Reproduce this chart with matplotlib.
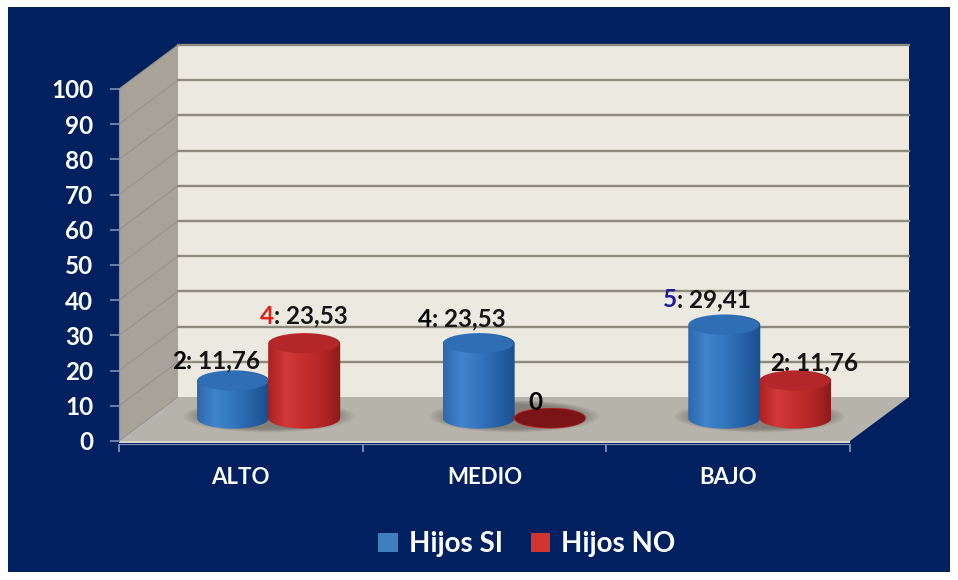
import matplotlib
matplotlib.use("Agg")
import matplotlib.pyplot as plt
import numpy as np
from matplotlib.patches import Ellipse, Patch, PathPatch, Polygon, Rectangle
from matplotlib.path import Path

categories = ["ALTO", "MEDIO", "BAJO"]
si_pct = [11.76, 23.53, 29.41]
no_pct = [23.53, 0, 11.76]
si_count = [2, 4, 5]
no_count = [4, 0, 2]
si_num_color = ["black", "black", "#1a1a9c"]
no_num_color = ["#e0201c", "black", "black"]
# pixel shift of each label from the top of its cylinder
si_shift = [(-47, 9), (-47, 14), (-47, 15)]
no_shift = [(-30, 17), (-7, 5), (-11, 7)]

W, H = 958, 580
NAVY = "#00205f"
FONT = "Lato"
px_x = 731 / 3     # px per category
px_y = 352 / 100   # px per value unit
dx = 59 / px_x     # depth of the box
dy = 44 / px_y
bar_hw = 36 / px_x
bar_hh = 10.5 / px_y
base_y = 6.5
height_scale = 0.9  # bars stand inside the box, so they come out a bit short
spread = 1.008
si_off = -0.024
no_off = 0.268

fig = plt.figure(figsize=(W / 100, H / 100), dpi=100, facecolor="white")
fig.patches.append(Rectangle((8 / W, 1 - 572 / H), 942 / W, 565 / H, transform=fig.transFigure,
                             facecolor=NAVY, edgecolor="none", zorder=-10))
ax = fig.add_axes([119 / W, 1 - 441 / H, 731 / W, 352 / H])
ax.patch.set_visible(False)


def gradient(stops, n=256):
    pos = np.linspace(0, 1, len(stops))
    rgb = np.array([matplotlib.colors.to_rgb(c) for c in stops])
    t = np.linspace(0, 1, n)
    return np.stack([np.interp(t, pos, rgb[:, i]) for i in range(3)], axis=1)


def poly(points, color, z):
    ax.add_patch(Polygon(points, closed=True, facecolor=color, edgecolor="none", zorder=z, clip_on=False))


def cylinder(cx, value, side, top):
    h = value * height_scale
    top_y = base_y + h
    th = np.linspace(np.pi, 2 * np.pi, 60)
    low = np.column_stack([cx + bar_hw * np.cos(th), base_y + bar_hh * np.sin(th)])
    upp = np.column_stack([cx + bar_hw * np.cos(th[::-1]), top_y - bar_hh * np.sin(th[::-1])])
    outline = np.vstack([low, upp, low[:1]])
    clip = PathPatch(Path(outline), transform=ax.transData, facecolor="none", edgecolor="none")
    ax.add_patch(clip)
    im = ax.imshow(gradient(side)[None, :, :], extent=[cx - bar_hw, cx + bar_hw, base_y - bar_hh, top_y + bar_hh],
                   aspect="auto", zorder=4, interpolation="bilinear")
    im.set_clip_path(clip)
    ax.add_patch(Ellipse((cx, top_y), 2 * bar_hw * 0.97, 2 * bar_hh * 0.92, facecolor=top, edgecolor="none",
                         zorder=5, clip_on=False))
    return top_y + bar_hh


# box of the 3D chart
poly([(0, 0), (dx, dy), (dx, 100 + dy), (0, 100)], "#a7a398", 1)
poly([(dx, dy), (3 + dx, dy), (3 + dx, 100 + dy), (dx, 100 + dy)], "#ece9e0", 1)
poly([(0, 0), (3, 0), (3 + dx, dy), (dx, dy)], "#b6b3ab", 2)
poly([(0, 0), (3, 0), (3, -0.7), (0, -0.7)], "#d5d3cc", 2)
for v in range(10, 110, 10):
    ax.plot([dx, 3 + dx], [v + dy, v + dy], color="#8d897c", lw=1.7, zorder=2, clip_on=False)
    ax.plot([0, dx], [v, v + dy], color="#989488", lw=0.8, zorder=1.5, clip_on=False)

# shadows and cylinders
for i in range(len(categories)):
    c = 1.5 + (i - 1) * spread
    mid = c + (si_off + no_off) / 2
    for scale in np.linspace(1.0, 0.78, 8):
        ax.add_patch(Ellipse((mid, base_y + 0.5), 170 / px_x * scale, 32 / px_y * scale, facecolor="#4e4a42",
                             edgecolor="none", alpha=0.07, zorder=3, clip_on=False))
    si_top = cylinder(c + si_off, si_pct[i],
                      ["#2e68ac", "#3f84cc", "#3376bf", "#2763a8", "#1a4f8e"], "#2f6db4")
    no_top = cylinder(c + no_off, no_pct[i],
                      ["#a9211f", "#d2393a", "#c62d2d", "#b32626", "#8e1a1a"], "#b3272a" if no_pct[i] else "#7b1416")

    labels = [(c + si_off, si_top, si_count[i], si_pct[i], si_num_color[i], si_shift[i]),
              (c + no_off, no_top, no_count[i], no_pct[i], no_num_color[i], no_shift[i])]
    for cx, top, n, pct, col, (sx, sy) in labels:
        off = (sx * 0.72, sy * 0.72)
        ax.annotate(str(n), (cx, top), xytext=off, textcoords="offset points", ha="right", va="center",
                    fontsize=17.5, fontweight="bold", family=FONT, color=col, zorder=7, annotation_clip=False)
        if pct == 0:
            continue
        ax.annotate(": " + f"{pct:.2f}".replace(".", ","), (cx, top), xytext=off, textcoords="offset points",
                    ha="left", va="center", fontsize=17.5, fontweight="bold", family=FONT, color="#141414",
                    zorder=7, annotation_clip=False)

ax.set_xlim(0, 3)
ax.set_ylim(0, 100)
ax.set_yticks(range(0, 110, 10))
ax.set_xticks(range(0, 4))
ax.set_xticklabels([])
ax.tick_params(axis="x", length=6, color="#8a9ac0", width=1.2)
ax.tick_params(axis="y", length=6.5, color="#7f90b8", width=1.2, pad=12, labelcolor="white")
for t in ax.get_yticklabels():
    t.set(fontsize=17.5, fontweight="bold", family=FONT)
# category names under the middle of each group
for i, name in enumerate(categories):
    ax.annotate(name, (i + 0.5, 0), xytext=(0, -26), textcoords="offset points", ha="center", va="center",
                fontsize=16, fontweight="bold", family=FONT, color="white", annotation_clip=False)
for s in ["top", "right"]:
    ax.spines[s].set_visible(False)
ax.spines["left"].set_color("#7f90b8")
ax.spines["bottom"].set_color("#7f90b8")
ax.spines["bottom"].set_position(("outward", 2))

handles = [Patch(facecolor="#3f7fbd", label="Hijos SI"), Patch(facecolor="#d2352e", label="Hijos NO")]
fig.legend(handles=handles, loc="center", bbox_to_anchor=(527 / W, 1 - 544 / H), ncol=2, frameon=False,
           prop={"family": FONT, "weight": "bold", "size": 20}, labelcolor="white", handlelength=0.7,
           handleheight=0.7, handletextpad=0.4, columnspacing=1.0)

fig.savefig("out.png", dpi=100, facecolor=fig.get_facecolor())
